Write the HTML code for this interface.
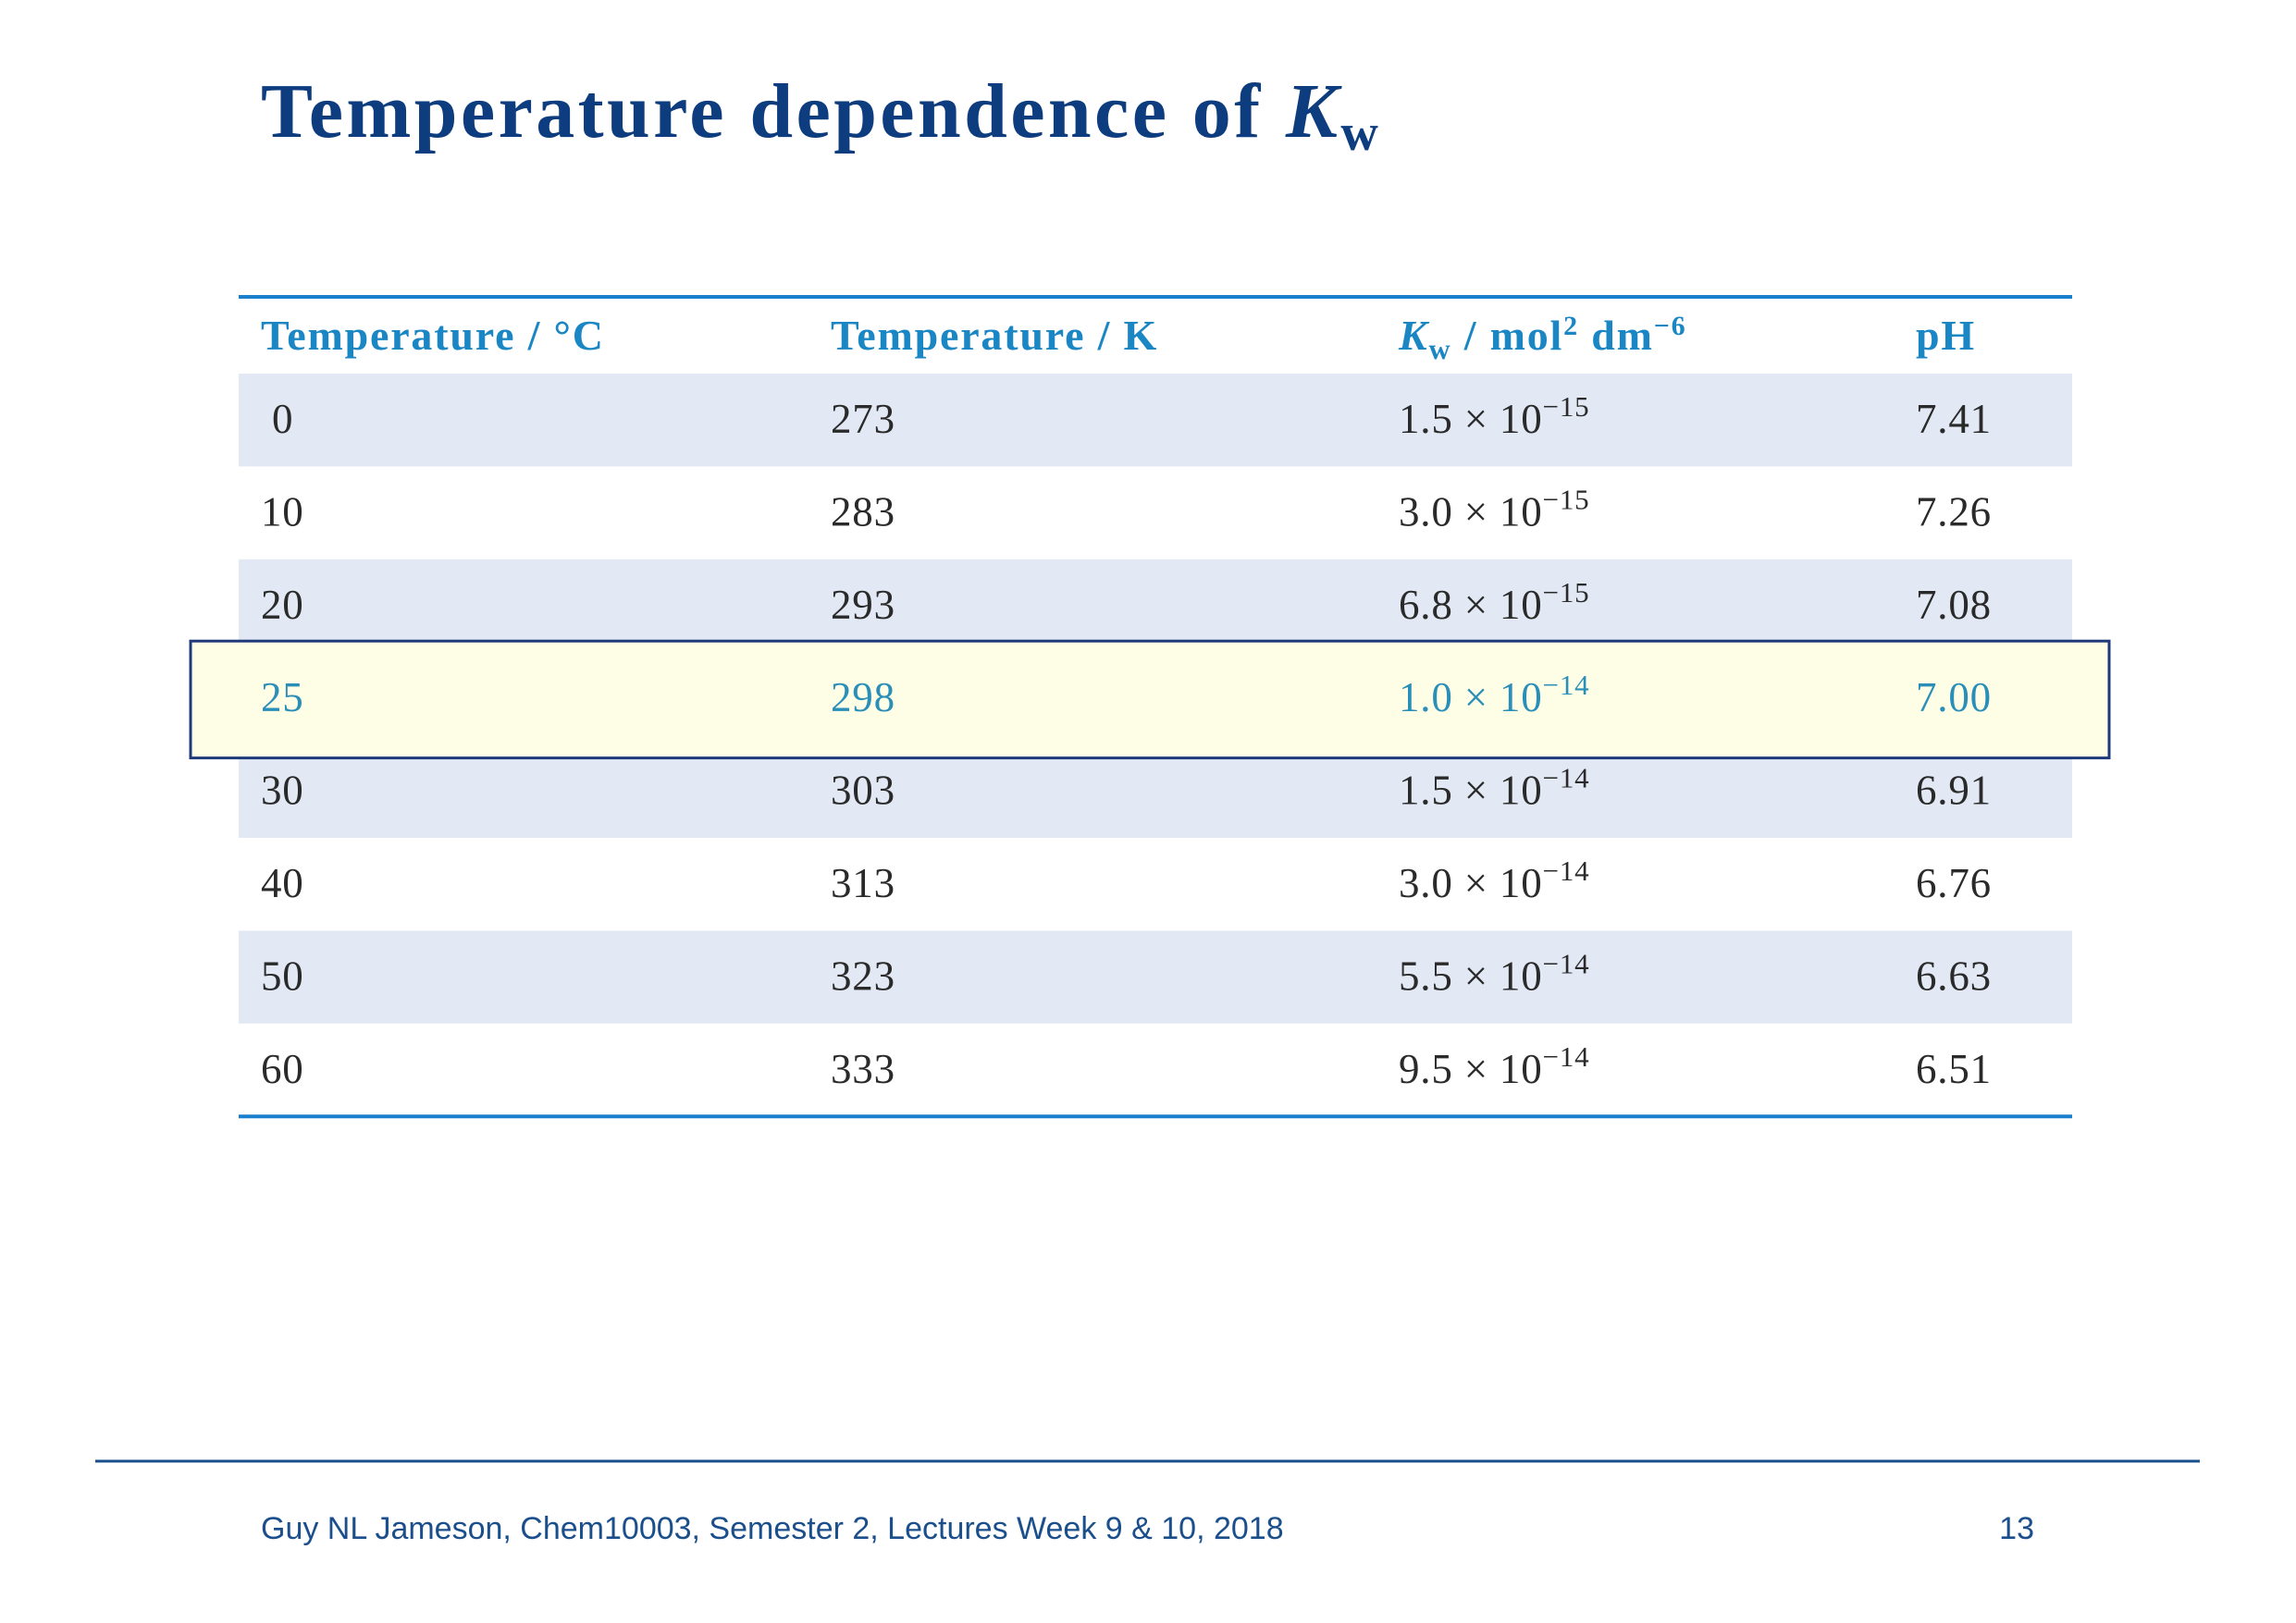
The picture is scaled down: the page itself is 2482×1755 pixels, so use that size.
<!DOCTYPE html>
<html><head><meta charset="utf-8"><style>
html,body{margin:0;padding:0;background:#fff}
svg{display:block}
</style></head><body>
<svg id="s" width="2482" height="1755" viewBox="0 0 2482 1755" xmlns="http://www.w3.org/2000/svg">
<text x="282" y="148" font-family="Liberation Serif, serif" font-weight="bold" font-size="84" letter-spacing="3.4" fill="#0d3d7e">Temperature dependence of <tspan font-style="italic">K</tspan><tspan font-size="56" dy="14">w</tspan></text>
<g id="tbl"></g>
<line x1="103" y1="1580" x2="2378" y2="1580" stroke="#1b4f8c" stroke-width="3"/>
<text x="282" y="1664" font-family="Liberation Sans, sans-serif" font-size="34" fill="#1b4f8c">Guy NL Jameson, Chem10003, Semester 2, Lectures Week 9 &amp; 10, 2018</text>
<text x="2199" y="1664" text-anchor="end" font-family="Liberation Sans, sans-serif" font-size="34" fill="#1b4f8c">13</text>
</svg>
<script>
const tempC=[0,10,20,25,30,40,50,60];
const tempK=[273,283,293,298,303,313,323,333];
const kwMant=["1.5","3.0","6.8","1.0","1.5","3.0","5.5","9.5"];
const kwExp=["−15","−15","−15","−14","−14","−14","−14","−14"];
const pH=["7.41","7.26","7.08","7.00","6.91","6.76","6.63","6.51"];
const highlightIndex=3;
const NS="http://www.w3.org/2000/svg";
const g=document.getElementById('tbl');
function mk(t,a,txt){const e=document.createElementNS(NS,t);for(const k in a)e.setAttribute(k,a[k]);if(txt!==undefined)e.textContent=txt;g.appendChild(e);return e;}
const x0=258,x1=2240,top0=404,rh=100.4;
const cols=[282,898,1512,2071];
for(let i=0;i<tempC.length;i++){
  if(i%2===0){const r=mk('rect',{x:x0,y:top0+i*rh,width:x1-x0,height:rh,fill:'#e2e9f5'});
  
  }
}
const hb=mk('rect',{x:206,y:top0+highlightIndex*rh-12,width:2074,height:rh+26,fill:'#fefde6',stroke:'#1f3a7a','stroke-width':3});


const hs={'font-family':'Liberation Serif, serif','font-size':46,fill:'#1a86c4','font-weight':'bold','letter-spacing':1.8};
const heads=['Temperature / °C','Temperature / K',null,'pH'];
heads.forEach((h,j)=>{if(h){const t=mk('text',Object.assign({x:cols[j],y:378},hs),h);

}});
const kh=mk('text',Object.assign({x:cols[2],y:378},hs));


kh.innerHTML='<tspan font-style="italic">K</tspan><tspan font-size="32" dy="10">w</tspan><tspan dy="-10"> / mol</tspan><tspan font-size="30" dy="-16">2</tspan><tspan dy="16"> dm</tspan><tspan font-size="30" dy="-16">−6</tspan>';
for(let i=0;i<tempC.length;i++){
  const y=top0+i*rh+64;
  const c=i===highlightIndex?'#2a8fb8':'#2a2a2a';
  const a={'font-family':'Liberation Serif, serif','font-size':45,fill:c,'letter-spacing':0.8};
  const vals=[(tempC[i]===0?'\u00a0':'')+tempC[i],tempK[i]];
  vals.forEach((v,j)=>{const t=mk('text',Object.assign({x:cols[j],y:y},a),v);
  
  });
  const k=mk('text',Object.assign({x:cols[2],y:y},a));
  
  
  k.innerHTML=kwMant[i]+' × 10<tspan font-size="31" dy="-18">'+kwExp[i]+'</tspan>';
  const p=mk('text',Object.assign({x:cols[3],y:y},a),pH[i]);
  
  
}
const tl=mk('line',{x1:x0,y1:321,x2:x1,y2:321,stroke:'#1a7fcc','stroke-width':4});


const bl=mk('line',{x1:x0,y1:top0+8*rh,x2:x1,y2:top0+8*rh,stroke:'#1a7fcc','stroke-width':4});


</script>
</body></html>
